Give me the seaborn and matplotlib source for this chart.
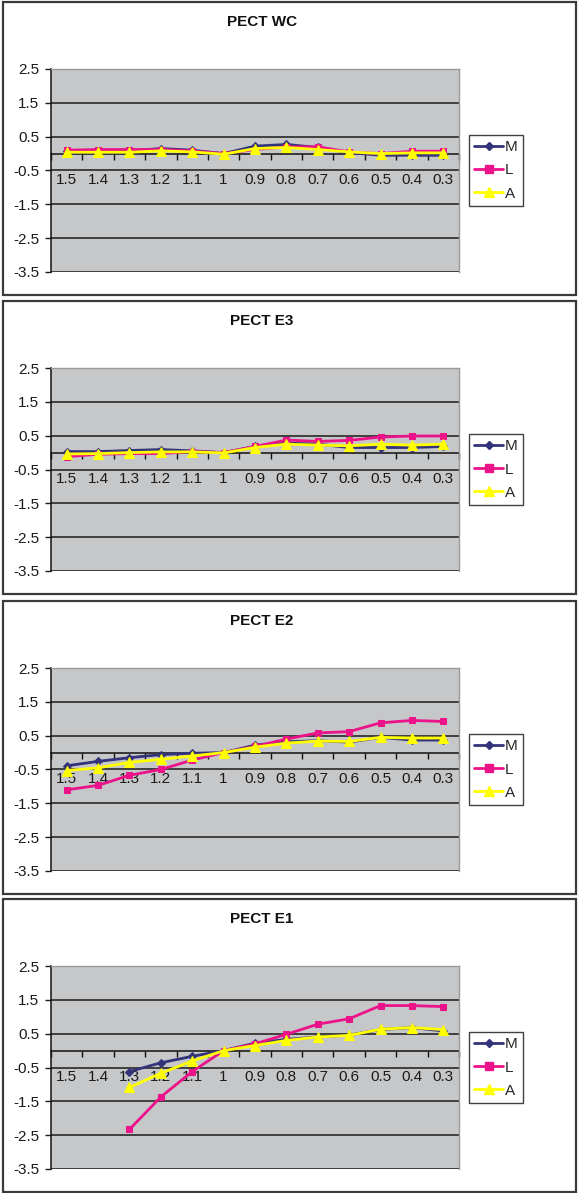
import numpy as np
import pandas as pd
import matplotlib
matplotlib.use("Agg")
import matplotlib.pyplot as plt
from matplotlib.patches import Rectangle
from matplotlib.lines import Line2D
import seaborn as sns

sns.set_style("white")
plt.rcParams["font.family"] = ["Liberation Sans", "DejaVu Sans"]

# Category labels along the horizontal axis
categories = ["1.5", "1.4", "1.3", "1.2", "1.1", "1", "0.9", "0.8", "0.7", "0.6", "0.5", "0.4", "0.3"]
y_ticks = [2.5, 1.5, 0.5, -0.5, -1.5, -2.5, -3.5]
series_names = ["M", "L", "A"]
nan = np.nan

titles = ["PECT WC", "PECT E3", "PECT E2", "PECT E1"]

wc_m = [0.08, 0.08, 0.08, 0.15, 0.10, 0.00, 0.22, 0.27, 0.18, 0.03, -0.05, -0.05, -0.05]
wc_l = [0.10, 0.12, 0.12, 0.12, 0.08, 0.00, 0.12, 0.20, 0.20, 0.05, 0.00, 0.07, 0.07]
wc_a = [0.04, 0.04, 0.04, 0.08, 0.05, -0.02, 0.15, 0.18, 0.12, 0.05, 0.00, 0.02, 0.02]

e3_m = [0.03, 0.03, 0.06, 0.09, 0.05, 0.00, 0.18, 0.28, 0.25, 0.15, 0.15, 0.15, 0.18]
e3_l = [-0.12, -0.05, -0.03, -0.03, 0.03, 0.00, 0.18, 0.37, 0.33, 0.36, 0.46, 0.49, 0.49]
e3_a = [-0.04, -0.03, 0.00, 0.02, 0.02, -0.01, 0.15, 0.25, 0.22, 0.20, 0.25, 0.22, 0.25]

e2_m = [-0.39, -0.26, -0.15, -0.06, -0.02, 0.00, 0.22, 0.32, 0.35, 0.31, 0.45, 0.37, 0.37]
e2_l = [-1.10, -0.97, -0.67, -0.50, -0.22, 0.00, 0.18, 0.40, 0.58, 0.62, 0.88, 0.95, 0.92]
e2_a = [-0.53, -0.45, -0.29, -0.20, -0.10, 0.00, 0.16, 0.28, 0.34, 0.33, 0.45, 0.43, 0.43]

e1_m = [nan, nan, -0.62, -0.36, -0.17, 0.00, 0.22, 0.33, 0.40, 0.46, 0.62, 0.68, 0.58]
e1_l = [nan, nan, -2.33, -1.37, -0.62, 0.00, 0.20, 0.48, 0.78, 0.94, 1.33, 1.33, 1.30]
e1_a = [nan, nan, -1.09, -0.67, -0.31, 0.00, 0.15, 0.30, 0.40, 0.45, 0.63, 0.68, 0.62]

panels = [(wc_m, wc_l, wc_a), (e3_m, e3_l, e3_a), (e2_m, e2_l, e2_a), (e1_m, e1_l, e1_a)]

colors = {"M": "#33337a", "L": "#ec128a", "A": "#ffff00"}
markers = {"M": "D", "L": "s", "A": "^"}
msizes = {"M": 4, "L": 5, "A": 6.5}

W, H = 579, 1193
fig = plt.figure(figsize=(W / 100, H / 100), dpi=100)

def fx(px):
    return px / W

def fy(py):
    return 1 - py / H

box_tops = [2, 301, 601, 899]
box_h = 293
plot_off = 67
plot_h = 203
plot_left, plot_w = 51, 408

for i, (title, vals) in enumerate(zip(titles, panels)):
    top = box_tops[i]
    # outer chart frame
    fig.add_artist(Rectangle((fx(3), fy(top + box_h)), fx(573), box_h / H,
                             transform=fig.transFigure, fill=False,
                             edgecolor="#3a3a3a", linewidth=1.6))
    ptop = top + plot_off
    ax = fig.add_axes([fx(plot_left), fy(ptop + plot_h), fx(plot_w), plot_h / H])
    ax.set_facecolor("#c6c7c9")

    df = pd.DataFrame({
        "pos": np.tile(np.arange(len(categories)), 3),
        "value": np.concatenate([vals[0], vals[1], vals[2]]),
        "series": np.repeat(series_names, len(categories)),
    })
    for name in series_names:
        sub = df[df["series"] == name].dropna()
        sns.lineplot(data=sub, x="pos", y="value", ax=ax, color=colors[name],
                     marker=markers[name], markersize=msizes[name],
                     markeredgecolor=colors[name], linewidth=2.0,
                     legend=False, zorder=3, sort=False)

    ax.set_xlim(-0.5, len(categories) - 0.5)
    ax.set_ylim(-3.5, 2.5)
    ax.set_yticks(y_ticks)
    ax.set_yticklabels([f"{v:g}" for v in y_ticks], fontsize=11)
    ax.yaxis.grid(True, color="#1a1a1a", linewidth=1.1, zorder=0.5)
    ax.set_axisbelow(True)
    ax.tick_params(axis="y", direction="out", length=4, width=1, pad=4.5,
                   left=True, colors="#1a1a1a", labelcolor="#1a1a1a")

    # category axis crossing at zero
    ax.spines["bottom"].set_position(("data", 0))
    ax.spines["bottom"].set_color("#111111")
    ax.spines["bottom"].set_linewidth(1.1)
    ax.spines["bottom"].set_zorder(1)
    ax.set_xticks(np.arange(len(categories) + 1) - 0.5)
    ax.set_xticklabels([])
    ax.tick_params(axis="x", direction="out", length=4.5, width=1, bottom=True,
                   colors="#111111")
    for k, lab in enumerate(categories):
        ax.text(k, -0.78, lab, ha="center", va="center", fontsize=11,
                color="#1a1a1a", zorder=2)

    ax.spines["left"].set_color("#111111")
    ax.spines["left"].set_linewidth(1.1)
    for s in ("top", "right"):
        ax.spines[s].set_color("#9a9a9a")
        ax.spines[s].set_linewidth(1.0)
    ax.set_xlabel("")
    ax.set_ylabel("")

    fig.text(fx(262), fy(top + 20), title, ha="center", va="center",
             fontsize=11, fontweight="bold", color="#111111")

    handles = [Line2D([], [], color=colors[n], marker=markers[n],
                      markersize=msizes[n] + 0.5, markeredgecolor=colors[n],
                      linewidth=2.0) for n in series_names]
    leg = fig.legend(handles, series_names, loc="center left",
                     bbox_to_anchor=(fx(469), fy(ptop + plot_h / 2)),
                     fontsize=11, frameon=True, fancybox=False,
                     handlelength=1.9, handletextpad=0.1, borderpad=0.35,
                     labelspacing=0.6, borderaxespad=0)
    leg.get_frame().set_edgecolor("#111111")
    leg.get_frame().set_linewidth(1.0)

fig.savefig("out.png", dpi=100, facecolor="white")
